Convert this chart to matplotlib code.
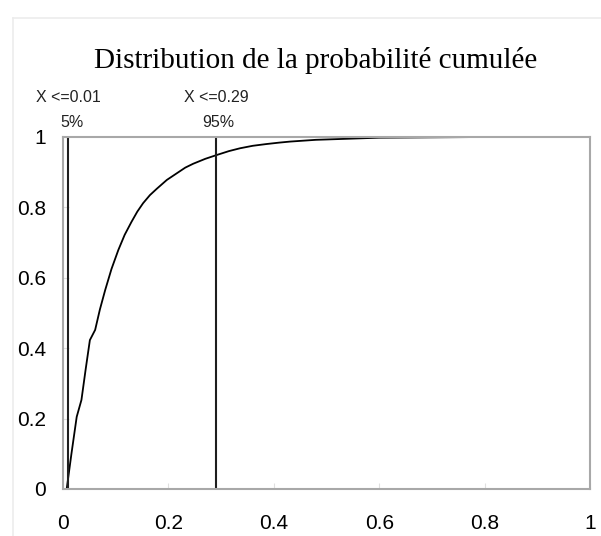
import matplotlib.pyplot as plt
from matplotlib.lines import Line2D

# courbe de probabilité cumulée
x_vals = [0.007, 0.016, 0.026, 0.035, 0.043, 0.051, 0.061, 0.070, 0.080, 0.092,
          0.105, 0.117, 0.130, 0.141, 0.152, 0.165, 0.178, 0.197, 0.219, 0.232,
          0.247, 0.270, 0.292, 0.315, 0.336, 0.360, 0.386, 0.410, 0.431, 0.480,
          0.540, 0.600, 0.700, 0.800, 0.886]
y_vals = [0.000, 0.100, 0.205, 0.253, 0.340, 0.423, 0.452, 0.510, 0.565, 0.625,
          0.679, 0.722, 0.759, 0.788, 0.812, 0.835, 0.853, 0.878, 0.900, 0.913,
          0.924, 0.938, 0.949, 0.960, 0.968, 0.975, 0.980, 0.984, 0.987, 0.992,
          0.995, 0.998, 0.999, 1.000, 1.000]

# seuils 5% / 95%
seuils = [0.01, 0.29]
seuil_labels = ["X <=0.01", "X <=0.29"]
pct_labels = ["5%", "95%"]
pct_x = [0.017, 0.294]

x_ticks = [0, 0.2, 0.4, 0.6, 0.8, 1]
y_ticks = [0, 0.2, 0.4, 0.6, 0.8, 1]
tick_labels = ["0", "0.2", "0.4", "0.6", "0.8", "1"]

fig = plt.figure(figsize=(6.01, 5.36), dpi=100)
ax = fig.add_axes([63 / 601, 47 / 536, 527 / 601, 352 / 536])

ax.plot(x_vals, y_vals, color="black", lw=1.3)
for s in seuils:
    ax.axvline(s, color="#1e1e1e", lw=1.5)

for s, lab in zip(seuils, seuil_labels):
    ax.text(s, 1.111, lab, ha="center", va="center", fontsize=11.5,
            family="Liberation Sans", color="#222222", clip_on=False)
for px, lab in zip(pct_x, pct_labels):
    ax.text(px, 1.04, lab, ha="center", va="center", fontsize=11.5,
            family="Liberation Sans", color="#222222", clip_on=False)

ax.set_xlim(0, 1)
ax.set_ylim(0, 1)
ax.set_xticks(x_ticks)
ax.set_yticks(y_ticks)
ax.set_xticklabels(tick_labels, family="Liberation Sans", fontsize=15)
ax.set_yticklabels(tick_labels, family="Liberation Sans", fontsize=15)
ax.tick_params(axis="x", direction="in", length=4, color="#e0e0e0", pad=18)
ax.tick_params(axis="y", direction="in", length=4, color="#e0e0e0", pad=12)
for sp in ax.spines.values():
    sp.set_color("#a8a8a8")
    sp.set_linewidth(1.5)

fig.text(316 / 601, 1 - 61 / 536, "Distribution de la probabilité cumulée",
         ha="center", va="center", family="Liberation Serif", fontsize=21)

# cadre du graphique
fig.add_artist(Line2D([13 / 601, 13 / 601], [0, 1 - 18 / 536],
                      transform=fig.transFigure, color="#ececec", lw=1.2))
fig.add_artist(Line2D([13 / 601, 1], [1 - 18 / 536, 1 - 18 / 536],
                      transform=fig.transFigure, color="#ececec", lw=1.2))

fig.savefig("out.png", dpi=100)
